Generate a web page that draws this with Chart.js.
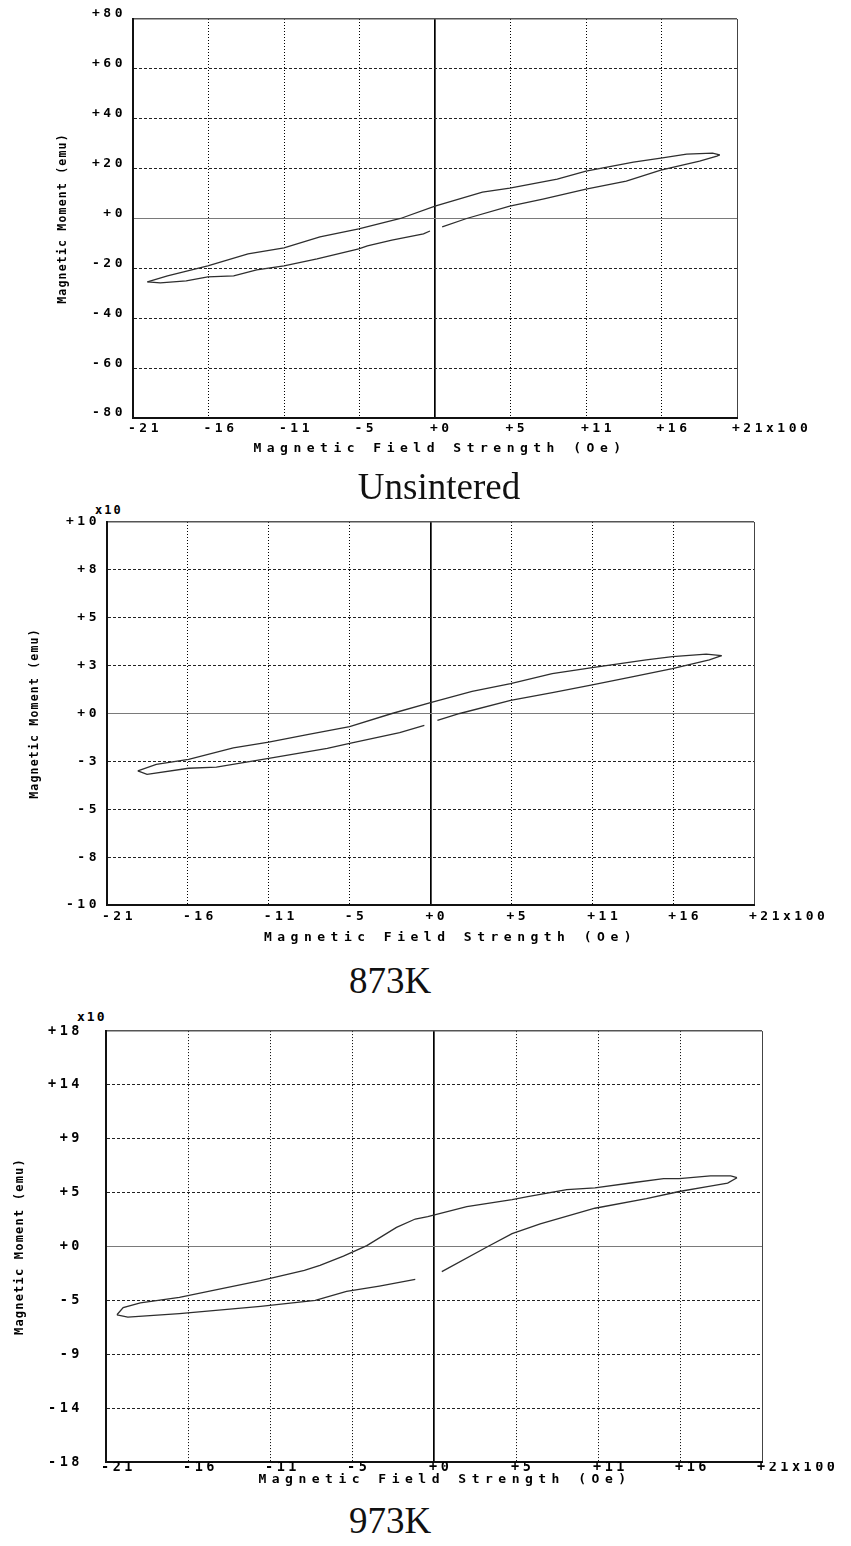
<!DOCTYPE html>
<html>
<head>
<meta charset="utf-8">
<title>Magnetic hysteresis loops</title>
<script src="https://cdn.jsdelivr.net/npm/chart.js"></script>
<style>
body { margin: 0; background: #fff; }
#page { position: relative; width: 851px; height: 1546px; overflow: hidden; }
.box { position: absolute; left: 0; width: 851px; }
.caption { position: absolute; font-family: "Liberation Serif", "Times New Roman", serif; font-size: 37px; line-height: 37px; color: #111; transform: translateX(-50%); white-space: nowrap; }
.mult { position: absolute; font-family: "DejaVu Sans Mono", monospace; font-weight: bold; font-size: 12px; line-height: 12px; letter-spacing: 2px; color: #000; }
</style>
</head>
<body>
<div id="page">
    <div class="box" style="top:0px;height:470px"><canvas id="c1"></canvas></div>
    <div class="caption" style="left:439px;top:468px">Unsintered</div>

    <div class="mult" style="left:95px;top:504px">x10</div>
    <div class="box" style="top:500px;height:452px"><canvas id="c2"></canvas></div>
    <div class="caption" style="left:390px;top:962px">873K</div>

    <div class="mult" style="left:77px;top:1011px;font-size:13px">x10</div>
    <div class="box" style="top:1000px;height:495px"><canvas id="c3"></canvas></div>
    <div class="caption" style="left:390px;top:1502px">973K</div>
</div>

<script>
// field axis, in units of 100 Oe (same for all three plots)
const xTicks = [-21, -15.75, -10.5, -5.25, 0, 5.25, 10.5, 15.75, 21];
const xTickLabels = ['-21', '-16', '-11', '-5', '+0', '+5', '+11', '+16', '+21x100'];

// Unsintered (emu)
const yTicks1 = [-80, -60, -40, -20, 0, 20, 40, 60, 80];
const yTickLabels1 = ['-80', '-60', '-40', '-20', '+0', '+20', '+40', '+60', '+80'];
const fieldDown1 = [19.8, 19.3, 17.5, 15.7, 13.8, 10.5, 8.5, 5.2, 3.3, 0, -2.4, -5.3, -8, -10.5, -13, -15.8, -18.6, -20.0];
const momentDown1 = [25.5, 26.2, 25.8, 24.2, 22.6, 19, 15.8, 12.2, 10.6, 5, 0, -4.2, -7.4, -11.8, -14.2, -19, -23, -25.4];
const fieldUp1 = [-20.0, -19.1, -17.3, -15.8, -14, -12.4, -10.5, -8.2, -5.3, -4.7, -3, -0.8, -0.35, 0, 0.5, 2.2, 5.2, 7.5, 10.5, 13.3, 15.7, 18.4, 19.6, 19.8];
const momentUp1 = [-25.4, -25.8, -25, -23.4, -23, -20.6, -19, -16.2, -12.2, -11, -8.7, -6.2, -5, null, -3.4, 0, 5, 7.8, 11.8, 15, 19.4, 23, 25, 25.5];

// 873K (x10 emu)
const yTicks2 = [-10, -7.5, -5, -2.5, 0, 2.5, 5, 7.5, 10];
const yTickLabels2 = ['-10', '-8', '-5', '-3', '+0', '+3', '+5', '+8', '+10'];
const fieldDown2 = [18.9, 17.9, 15.7, 14, 10.5, 7.9, 5.2, 2.7, 0, -2.5, -5.25, -8, -10.5, -12.8, -15.7, -17.8, -19];
const momentDown2 = [3.02, 3.1, 2.97, 2.8, 2.4, 2.08, 1.56, 1.15, 0.57, 0, -0.68, -1.1, -1.5, -1.8, -2.4, -2.66, -3.0];
const fieldUp2 = [-19, -18.4, -15.7, -13.9, -10.5, -6.7, -5.25, -2, -0.4, 0, 0.45, 1.9, 5.2, 8, 10.5, 13, 15.7, 18.1, 18.9];
const momentUp2 = [-3.0, -3.18, -2.86, -2.8, -2.34, -1.82, -1.56, -1.0, -0.62, null, -0.36, 0, 0.68, 1.1, 1.5, 1.9, 2.34, 2.8, 3.02];

// 973K (x10 emu)
const yTicks3 = [-18, -13.5, -9, -4.5, 0, 4.5, 9, 13.5, 18];
const yTickLabels3 = ['-18', '-14', '-9', '-5', '+0', '+5', '+9', '+14', '+18'];
const fieldDown3 = [19.4, 19, 17.7, 15.7, 14.7, 12.7, 10.3, 8.5, 6, 5, 2.1, -0.4, -1.2, -2.4, -4.3, -5.8, -7.3, -8.3, -11.1, -13.9, -16.3, -18.8, -19.9, -20.3];
const momentDown3 = [5.75, 5.9, 5.9, 5.67, 5.67, 5.33, 4.9, 4.75, 4.17, 3.92, 3.33, 2.5, 2.3, 1.6, 0.08, -0.8, -1.58, -2.0, -2.85, -3.6, -4.25, -4.7, -5.1, -5.7];
const fieldUp3 = [-20.3, -19.6, -16.3, -11.1, -7.6, -5.6, -3.5, -1.2, 0, 0.5, 3.45, 5, 6.8, 10.3, 13.6, 15.7, 17.5, 18.8, 19.4];
const momentUp3 = [-5.7, -5.9, -5.6, -5.0, -4.5, -3.75, -3.3, -2.75, null, -2.1, 0, 1.08, 1.9, 3.2, 4.0, 4.6, 5.0, 5.3, 5.75];

const xTitle = 'Magnetic Field Strength (Oe)';
const yTitle = 'Magnetic Moment (emu)';

function toPoints(xs, ys) {
    return xs.map((x, i) => ({ x: x, y: ys[i] }));
}

// axis titles + wide letter spacing like the instrument printout
const axisTitles = {
    id: 'axisTitles',
    beforeDraw(chart, args, opts) {
        chart.ctx.letterSpacing = opts.tickSpacing + 'px';
    },
    afterDraw(chart, args, opts) {
        const ctx = chart.ctx;
        const a = chart.chartArea;
        ctx.save();
        ctx.fillStyle = '#000';
        ctx.textAlign = 'center';
        ctx.textBaseline = 'middle';
        ctx.letterSpacing = opts.xSpacing + 'px';
        ctx.font = 'bold ' + opts.xSize + 'px "DejaVu Sans Mono"';
        ctx.fillText(xTitle, (a.left + a.right) / 2 + opts.xShift, a.bottom + opts.xGap);
        ctx.letterSpacing = opts.ySpacing + 'px';
        ctx.font = 'bold ' + opts.ySize + 'px "DejaVu Sans Mono"';
        ctx.translate(opts.yPos, (a.top + a.bottom) / 2);
        ctx.rotate(-Math.PI / 2);
        ctx.fillText(yTitle, 0, 0);
        ctx.restore();
    }
};

function makeChart(id, s) {
    const yMin = s.yTicks[0], yMax = s.yTicks[s.yTicks.length - 1];
    const lineStyle = { showLine: true, pointRadius: 0, borderColor: '#2e2e2e', borderWidth: 1.3, spanGaps: false, tension: 0 };
    return new Chart(document.getElementById(id), {
        type: 'scatter',
        data: {
            datasets: [
                Object.assign({ data: toPoints(s.fieldDown, s.momentDown) }, lineStyle),
                Object.assign({ data: toPoints(s.fieldUp, s.momentUp) }, lineStyle)
            ]
        },
        plugins: [axisTitles],
        options: {
            responsive: true,
            maintainAspectRatio: false,
            animation: false,
            layout: { padding: { top: s.padTop, right: s.padRight, left: 0, bottom: 0 } },
            plugins: {
                legend: { display: false },
                tooltip: { enabled: false },
                axisTitles: s.titles
            },
            scales: {
                x: {
                    type: 'linear',
                    min: -21,
                    max: 21,
                    afterBuildTicks: scale => { scale.ticks = xTicks.map(v => ({ value: v })); },
                    afterFit: scale => { scale.height = s.xHeight; },
                    ticks: {
                        autoSkip: false,
                        maxRotation: 0,
                        align: 'start',
                        labelOffset: -5,
                        padding: s.xPad,
                        color: '#000',
                        font: { family: 'DejaVu Sans Mono', weight: 'bold', size: s.tickSize },
                        callback: (v, i) => xTickLabels[i]
                    },
                    grid: {
                        drawTicks: false,
                        color: c => {
                            const v = c.tick ? c.tick.value : null;
                            if (v === 0) return '#000';
                            if (v === 21) return '#444';
                            if (v === -21) return 'rgba(0,0,0,0)';
                            return '#000';
                        },
                        lineWidth: c => (c.tick && c.tick.value === 0) ? 1.7 : 1
                    },
                    border: {
                        color: '#111',
                        width: 2,
                        dash: c => (c.tick && (c.tick.value === 0 || Math.abs(c.tick.value) === 21)) ? [] : [1, 2]
                    }
                },
                y: {
                    type: 'linear',
                    min: yMin,
                    max: yMax,
                    afterBuildTicks: scale => { scale.ticks = s.yTicks.map(v => ({ value: v })); },
                    afterFit: scale => { scale.width = s.yWidth; },
                    ticks: {
                        autoSkip: false,
                        padding: s.yPad,
                        labelOffset: s.yLabelOffset,
                        color: '#000',
                        font: { family: 'DejaVu Sans Mono', weight: 'bold', size: s.tickSize },
                        callback: (v, i) => s.yTickLabels[i]
                    },
                    grid: {
                        drawTicks: false,
                        color: c => {
                            const v = c.tick ? c.tick.value : null;
                            if (v === 0) return '#7a7a7a';
                            if (v === yMax) return '#555';
                            if (v === yMin) return 'rgba(0,0,0,0)';
                            return '#222';
                        },
                        lineWidth: c => (c.tick && c.tick.value === yMax) ? 1.5 : 1
                    },
                    border: {
                        color: '#111',
                        width: 2,
                        dash: c => (c.tick && (c.tick.value === 0 || c.tick.value === yMin || c.tick.value === yMax)) ? [] : [3, 2]
                    }
                }
            }
        }
    });
}

makeChart('c1', {
    yTicks: yTicks1, yTickLabels: yTickLabels1,
    fieldDown: fieldDown1, momentDown: momentDown1, fieldUp: fieldUp1, momentUp: momentUp1,
    padTop: 19, padRight: 114, yWidth: 133, xHeight: 52,
    xPad: 3, yPad: 7, yLabelOffset: -5, tickSize: 13,
    titles: { tickSpacing: 3.5, xSpacing: 5.5, xSize: 13, xShift: 5, xGap: 31, ySpacing: 1.2, ySize: 11.5, yPos: 63 }
});

makeChart('c2', {
    yTicks: yTicks2, yTickLabels: yTickLabels2,
    fieldDown: fieldDown2, momentDown: momentDown2, fieldUp: fieldUp2, momentUp: momentUp2,
    padTop: 22, padRight: 97, yWidth: 107, xHeight: 47,
    xPad: 4, yPad: 7, yLabelOffset: 0, tickSize: 13,
    titles: { tickSpacing: 3.5, xSpacing: 5.5, xSize: 13, xShift: 20, xGap: 33, ySpacing: 1.2, ySize: 11.5, yPos: 35 }
});

makeChart('c3', {
    yTicks: yTicks3, yTickLabels: yTickLabels3,
    fieldDown: fieldDown3, momentDown: momentDown3, fieldUp: fieldUp3, momentUp: momentUp3,
    padTop: 29, padRight: 89, yWidth: 106, xHeight: 33,
    xPad: -3, yPad: 23, yLabelOffset: 0, tickSize: 13.5,
    titles: { tickSpacing: 3.5, xSpacing: 5.5, xSize: 13, xShift: 11, xGap: 18, ySpacing: 1.2, ySize: 12, yPos: 20 }
});
</script>
</body>
</html>
